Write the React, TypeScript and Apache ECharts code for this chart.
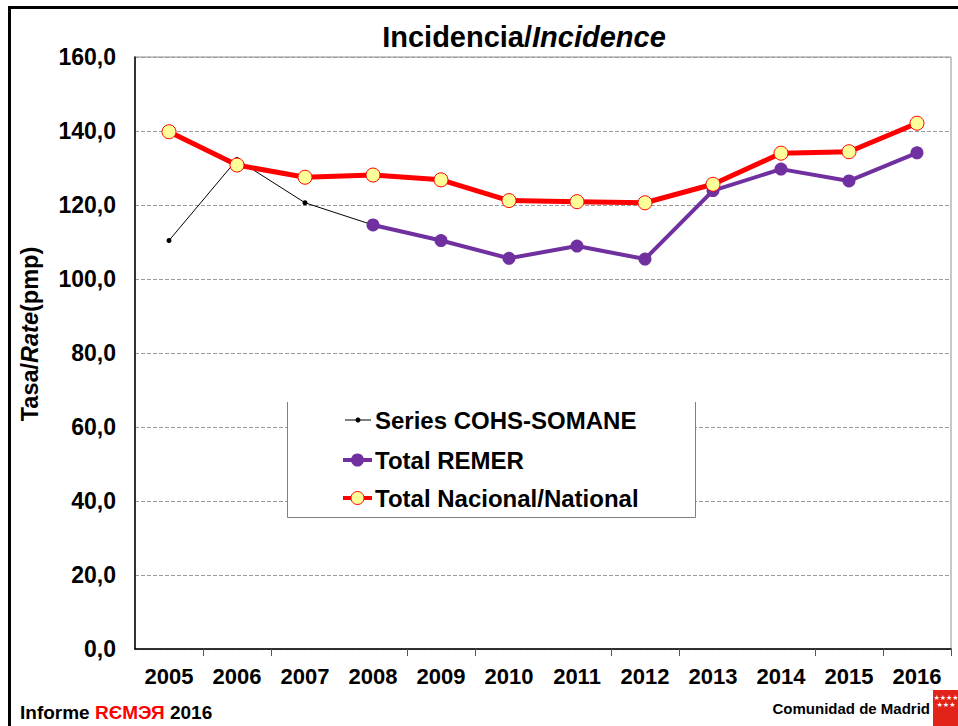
import React, { useEffect, useRef } from "react";
import * as echarts from "echarts";

const years = ["2005", "2006", "2007", "2008", "2009", "2010", "2011", "2012", "2013", "2014", "2015", "2016"];
const cohsSomane = [110.4, 132.3, 120.6, 114.6, null, null, null, null, null, null, null, null];
const totalRemer = [null, null, null, 114.6, 110.4, 105.6, 108.9, 105.4, 123.9, 129.7, 126.5, 134.1];
const totalNacional = [139.8, 130.8, 127.5, 128.1, 126.8, 121.2, 120.9, 120.6, 125.6, 134.0, 134.4, 142.1];
const seriesNames = ["Series COHS-SOMANE", "Total REMER", "Total Nacional/National"];

const FONT = "'Liberation Sans', Arial, sans-serif";

export default function App() {
  const ref = useRef<HTMLDivElement>(null);
  useEffect(() => {
    if (!ref.current) return;
    const chart = echarts.init(ref.current, null, { renderer: "svg" });
    const legendY = [420, 460, 498];
    const legendGraphics: any[] = [
      { type: "rect", z: 50, shape: { x: 287, y: 402, width: 409, height: 116 }, style: { fill: "#fff", stroke: null } },
      { type: "polyline", z: 51, shape: { points: [[287.5, 402], [287.5, 517.5], [695.5, 517.5], [695.5, 402]] }, style: { stroke: "#808080", lineWidth: 1, fill: null } },
      { type: "line", z: 52, shape: { x1: 345, y1: legendY[0], x2: 371, y2: legendY[0] }, style: { stroke: "#000", lineWidth: 1 } },
      { type: "circle", z: 53, shape: { cx: 358, cy: legendY[0], r: 2.5 }, style: { fill: "#000" } },
      { type: "line", z: 52, shape: { x1: 343, y1: legendY[1], x2: 372, y2: legendY[1] }, style: { stroke: "#7030A0", lineWidth: 4 } },
      { type: "circle", z: 53, shape: { cx: 357.5, cy: legendY[1], r: 6.5 }, style: { fill: "#7030A0" } },
      { type: "line", z: 52, shape: { x1: 343, y1: legendY[2], x2: 372, y2: legendY[2] }, style: { stroke: "#FF0000", lineWidth: 4 } },
      { type: "circle", z: 53, shape: { cx: 357.5, cy: legendY[2], r: 6.5 }, style: { fill: "#FFFF99", stroke: "#FF0000", lineWidth: 1 } },
    ];
    seriesNames.forEach((n, i) => {
      legendGraphics.push({
        type: "text", z: 53, x: 375, y: legendY[i],
        style: { text: n, font: `bold 24px ${FONT}`, fill: "#000", verticalAlign: "middle", align: "left" },
      });
    });

    chart.setOption({
      animation: false,
      backgroundColor: "#fff",
      grid: { left: 135, top: 57, right: 7, bottom: 77, show: true, borderColor: "#909090", borderWidth: 1, backgroundColor: "#fff" },
      xAxis: {
        type: "category",
        data: years,
        boundaryGap: true,
        axisLine: { lineStyle: { color: "#000", width: 1.5 } },
        axisTick: { show: true, length: 7, interval: (i: number) => i % 3 !== 0, lineStyle: { color: "#555", width: 1 } },
        axisLabel: { color: "#000", fontFamily: FONT, fontWeight: "bold", fontSize: 22, margin: 16, interval: 0 },
        splitLine: { show: false },
      },
      yAxis: {
        type: "value",
        min: 0,
        max: 160,
        interval: 20,
        axisLine: { show: true, lineStyle: { color: "#000", width: 1.5 } },
        axisTick: { show: false },
        axisLabel: {
          color: "#000", fontFamily: FONT, fontWeight: "bold", fontSize: 23, margin: 19,
          formatter: (v: number) => v.toFixed(1).replace(".", ","),
        },
        splitLine: { show: true, lineStyle: { color: "#9a9a9a", type: [4, 2], width: 1 } },
      },
      series: [
        {
          name: seriesNames[0], type: "line", data: cohsSomane, z: 2,
          symbol: "circle", symbolSize: 5, showAllSymbol: true,
          lineStyle: { color: "#000", width: 1 }, itemStyle: { color: "#000" },
        },
        {
          name: seriesNames[1], type: "line", data: totalRemer, z: 3,
          symbol: "circle", symbolSize: 13, showAllSymbol: true,
          lineStyle: { color: "#7030A0", width: 4 }, itemStyle: { color: "#7030A0" },
        },
        {
          name: seriesNames[2], type: "line", data: totalNacional, z: 4,
          symbol: "circle", symbolSize: 14, showAllSymbol: true,
          lineStyle: { color: "#FF0000", width: 5 },
          itemStyle: { color: "#FFFF99", borderColor: "#FF0000", borderWidth: 1 },
        },
      ],
      graphic: [
        { type: "rect", z: 100, shape: { x: 9.5, y: 7.5, width: 1000, height: 800 }, style: { fill: null, stroke: "#000", lineWidth: 3 } },
        {
          type: "text", z: 100, x: 524, y: 37,
          style: {
            text: "{a|Incidencia/}{b|Incidence}",
            align: "center", verticalAlign: "middle",
            rich: {
              a: { font: `bold 29px ${FONT}`, fill: "#000" },
              b: { font: `italic bold 29px ${FONT}`, fill: "#000" },
            },
          },
        },
        {
          type: "text", z: 100, x: 30, y: 334, rotation: Math.PI / 2,
          style: {
            text: "{a|Tasa/}{b|Rate}{a|(pmp)}",
            align: "center", verticalAlign: "middle",
            rich: {
              a: { font: `bold 23.5px ${FONT}`, fill: "#000" },
              b: { font: `italic bold 23.5px ${FONT}`, fill: "#000" },
            },
          },
        },
        {
          type: "text", z: 100, x: 20, y: 712,
          style: {
            text: "{a|Informe }{r|RЄMЭЯ}{a| 2016}",
            align: "left", verticalAlign: "middle",
            rich: {
              a: { font: `bold 19px ${FONT}`, fill: "#000" },
              r: { font: `bold 19px ${FONT}`, fill: "#FF0000" },
            },
          },
        },
        {
          type: "text", z: 100, x: 930, y: 708,
          style: { text: "Comunidad de Madrid", font: `bold 15px ${FONT}`, fill: "#000", align: "right", verticalAlign: "middle" },
        },
        { type: "rect", z: 100, shape: { x: 933, y: 690, width: 30, height: 40 }, style: { fill: "#E2231A" } },
        { type: "text", z: 101, x: 946, y: 698, style: { text: "★★★★", font: `7px 'DejaVu Sans'`, fill: "#fff", align: "center", verticalAlign: "middle" } },
        { type: "text", z: 101, x: 946, y: 705, style: { text: "★★★", font: `7px 'DejaVu Sans'`, fill: "#fff", align: "center", verticalAlign: "middle" } },
        ...legendGraphics,
      ],
    });
    return () => chart.dispose();
  }, []);
  return <div ref={ref} style={{ position: "fixed", left: 0, top: 0, width: 958, height: 726 }} />;
}
